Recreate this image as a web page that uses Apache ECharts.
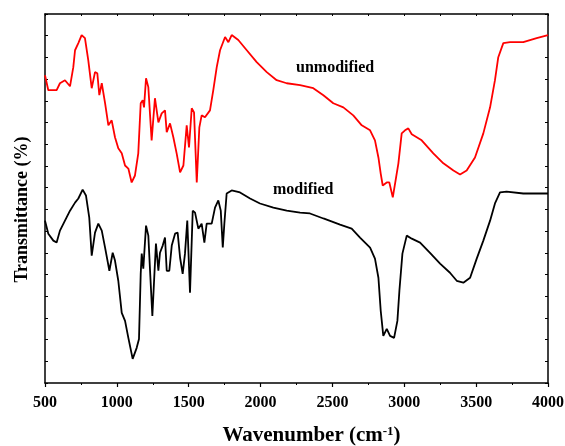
<!DOCTYPE html>
<html>
<head>
<meta charset="utf-8">
<script src="https://cdn.jsdelivr.net/npm/echarts@6/dist/echarts.min.js"></script>
<style>
  html, body { margin: 0; padding: 0; background: #fff; }
  #chart { width: 565px; height: 446px; }
</style>
</head>
<body>
<div id="chart"></div>
<script>
// FTIR spectra (y in arbitrary transmittance units)
var waveRed = [500, 523, 581, 604, 639, 674, 697, 709, 732, 755, 778, 801, 825, 848, 864, 878, 895, 918, 941, 964,
    987, 1010, 1034, 1057, 1080, 1103, 1126, 1149, 1166, 1180, 1189, 1203, 1219, 1242, 1265, 1289, 1312, 1335, 1347, 1370,
    1393, 1416, 1440, 1463, 1486, 1502, 1521, 1537, 1556, 1574, 1590, 1613, 1648, 1671, 1695, 1718, 1753, 1776, 1799, 1845,
    1904, 1973, 2043, 2112, 2182, 2275, 2367, 2437, 2506, 2576, 2645, 2704, 2762, 2796, 2820, 2836, 2850, 2878, 2896, 2920,
    2943, 2959, 2982, 3005, 3028, 3052, 3121, 3202, 3272, 3342, 3388, 3434, 3492, 3550, 3597, 3631, 3654, 3689, 3736, 3828,
    3921, 4000];
var transRed = [14.18, 13.49, 13.49, 13.81, 13.95, 13.67, 14.55, 15.33, 15.66, 16.03, 15.89, 14.87, 13.58, 14.32, 14.27, 13.26, 13.81, 12.89, 11.87, 12.10,
    11.32, 10.81, 10.58, 10.02, 9.88, 9.24, 9.56, 10.58, 12.89, 13.03, 12.70, 14.04, 13.63, 11.18, 13.12, 12.01, 12.42, 12.56, 11.55, 11.96,
    11.32, 10.58, 9.70, 10.02, 11.87, 10.85, 12.66, 12.47, 9.24, 11.78, 12.33, 12.24, 12.56, 13.49, 14.55, 15.33, 15.94, 15.70, 16.03, 15.80,
    15.33, 14.78, 14.32, 13.95, 13.81, 13.72, 13.58, 13.26, 12.89, 12.70, 12.33, 11.87, 11.64, 11.18, 10.39, 9.65, 9.10, 9.24, 9.24, 8.55,
    9.47, 10.12, 11.50, 11.64, 11.73, 11.46, 11.18, 10.58, 10.12, 9.79, 9.61, 9.79, 10.39, 11.50, 12.70, 13.95, 15.01, 15.66, 15.70, 15.70,
    15.89, 16.03];

var waveBlack = [500, 523, 558, 581, 604, 639, 674, 709, 732, 762, 785, 808, 825, 848, 871, 895, 918, 948, 971, 987,
    1010, 1034, 1057, 1080, 1110, 1138, 1154, 1166, 1173, 1184, 1203, 1219, 1231, 1247, 1259, 1272, 1289, 1300, 1319, 1335,
    1347, 1365, 1382, 1405, 1423, 1440, 1458, 1474, 1490, 1509, 1528, 1544, 1567, 1590, 1609, 1625, 1660, 1683, 1706, 1723,
    1737, 1748, 1764, 1799, 1857, 1927, 1996, 2089, 2182, 2275, 2344, 2437, 2553, 2634, 2692, 2762, 2796, 2820, 2836, 2854,
    2878, 2901, 2929, 2952, 2966, 2987, 3017, 3052, 3110, 3179, 3249, 3318, 3365, 3411, 3458, 3504, 3550, 3597, 3631, 3666,
    3712, 3828, 3990, 4000];
var transBlack = [7.48, 6.88, 6.56, 6.47, 7.02, 7.48, 7.94, 8.31, 8.50, 8.91, 8.64, 7.62, 5.87, 6.93, 7.34, 7.02, 6.24, 5.17, 6.00, 5.64,
    4.71, 3.23, 2.86, 2.08, 1.11, 1.62, 2.03, 5.03, 5.96, 5.27, 7.25, 6.79, 5.17, 3.09, 4.71, 6.42, 5.17, 6.00, 6.33, 6.70,
    5.17, 5.17, 6.33, 6.88, 6.93, 5.77, 5.03, 5.96, 7.48, 4.16, 7.94, 7.85, 7.11, 7.34, 6.47, 7.34, 7.34, 8.08, 8.41, 7.94,
    6.24, 7.34, 8.73, 8.87, 8.78, 8.50, 8.27, 8.08, 7.94, 7.85, 7.81, 7.58, 7.30, 7.11, 6.70, 6.24, 5.73, 4.85, 3.33, 2.17,
    2.49, 2.17, 2.08, 2.86, 4.25, 5.96, 6.79, 6.65, 6.47, 6.00, 5.50, 5.08, 4.71, 4.62, 4.85, 5.73, 6.56, 7.48, 8.27, 8.78,
    8.82, 8.73, 8.73, 8.73];

var seriesNames = ["unmodified", "modified"];

function toPairs(xs, ys) {
    var out = [];
    for (var i = 0; i < xs.length; i++) {
        out.push([xs[i], ys[i]]);
    }
    return out;
}

var serif = "'Liberation Serif', 'Times New Roman', serif";
var axisLine = {show: true, onZero: false, lineStyle: {color: '#000', width: 1.5}};

var chart = echarts.init(document.getElementById("chart"));
var option = {
    backgroundColor: '#fff',
    animation: false,
    grid: {left: 45, right: 17, top: 14, bottom: 63, outerBoundsMode: 'none', containLabel: false},
    xAxis: [{
        type: 'value',
        position: 'bottom',
        min: 500, max: 4000, interval: 500,
        axisLine: axisLine,
        axisTick: {show: true, inside: false, length: 4, lineStyle: {color: '#000', width: 1.2}},
        minorTick: {show: true, splitNumber: 2, length: 2, lineStyle: {color: '#000', width: 1}},
        splitLine: {show: false},
        axisLabel: {
            color: '#000', fontFamily: serif, fontWeight: 'bold', fontSize: 16, margin: 12,
            formatter: function (v) { return String(v); }
        },
        name: '{a|Wavenumber (cm}{s|-1}{a|)}',
        nameLocation: 'middle',
        nameGap: 42,
        nameMoveOverlap: false,
        nameTextStyle: {
            padding: [0, 0, 0, 30],
            rich: {
                a: {fontFamily: serif, fontWeight: 'bold', fontSize: 21, color: '#000'},
                s: {fontFamily: serif, fontWeight: 'bold', fontSize: 13, color: '#000', verticalAlign: 'top', padding: [0, 0, 9, 0]}
            }
        }
    }, {
        type: 'value',
        position: 'top',
        min: 500, max: 4000, interval: 250,
        axisLine: axisLine,
        axisTick: {show: true, inside: true, length: 2, lineStyle: {color: '#000'}},
        axisLabel: {show: false},
        splitLine: {show: false}
    }],
    yAxis: [{
        type: 'value',
        position: 'left',
        min: 0, max: 17, interval: 1,
        axisLine: axisLine,
        axisTick: {show: true, inside: true, length: 3, lineStyle: {color: '#000'}},
        axisLabel: {show: false},
        splitLine: {show: false},
        name: 'Transmittance (%)',
        nameLocation: 'middle',
        nameGap: 14,
        nameTextStyle: {fontFamily: serif, fontWeight: 'bold', fontSize: 18, color: '#000', padding: [0, 22, 0, 0]}
    }, {
        type: 'value',
        position: 'right',
        min: 0, max: 17, interval: 1,
        axisLine: axisLine,
        axisTick: {show: true, inside: true, length: 3, lineStyle: {color: '#000'}},
        axisLabel: {show: false},
        splitLine: {show: false}
    }],
    series: [{
        name: seriesNames[0],
        type: 'line',
        showSymbol: false,
        data: toPairs(waveRed, transRed),
        lineStyle: {color: '#ff0000', width: 1.8},
        z: 3
    }, {
        name: seriesNames[1],
        type: 'line',
        showSymbol: false,
        data: toPairs(waveBlack, transBlack),
        lineStyle: {color: '#000', width: 1.8},
        z: 3
    }],
    graphic: [{
        type: 'text', left: 296, top: 60,
        style: {text: seriesNames[0], font: "bold 16px " + serif, fill: '#000'}
    }, {
        type: 'text', left: 273, top: 182,
        style: {text: seriesNames[1], font: "bold 16px " + serif, fill: '#000'}
    }]
};
chart.setOption(option);
</script>
</body>
</html>
